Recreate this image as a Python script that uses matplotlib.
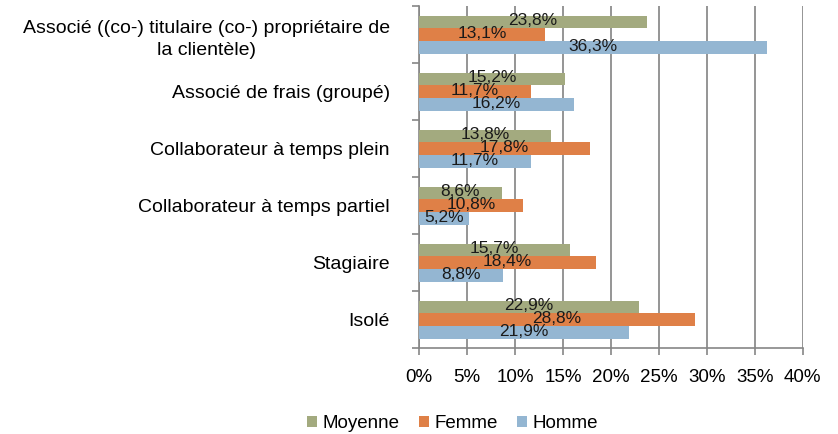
import numpy as np
import matplotlib.pyplot as plt
from matplotlib.ticker import FixedLocator

categories = [
    "Associé ((co-) titulaire (co-) propriétaire de\nla clientèle)",
    "Associé de frais (groupé)",
    "Collaborateur à temps plein",
    "Collaborateur à temps partiel",
    "Stagiaire",
    "Isolé",
]
moyenne = [23.8, 15.2, 13.8, 8.6, 15.7, 22.9]
femme = [13.1, 11.7, 17.8, 10.8, 18.4, 28.8]
homme = [36.3, 16.2, 11.7, 5.2, 8.8, 21.9]
xticks = [0, 5, 10, 15, 20, 25, 30, 35, 40]

plt.rcParams['font.family'] = ['Liberation Sans', 'DejaVu Sans']

fig = plt.figure(figsize=(8.38, 4.34), dpi=100)
ax = fig.add_axes([0.5, 0.198, 0.458, 0.788])

y = np.arange(len(categories))
h = 0.222
series = [
    ("Moyenne", moyenne, "#A3AA7F", -h),
    ("Femme", femme, "#DF8047", 0),
    ("Homme", homme, "#94B6D2", h),
]
for name, vals, col, off in series:
    bars = ax.barh(y + off, vals, height=h, color=col, label=name, zorder=3)
    for b, v in zip(bars, vals):
        ax.text(v / 2, b.get_y() + b.get_height() / 2 - 0.02,
                f"{v:.1f}%".replace(".", ","),
                ha="center", va="center", fontsize=12.5, color="#1a1a1a", zorder=4)

ax.set_xlim(0, 40)
ax.set_ylim(5.5, -0.5)
ax.set_xticks(xticks)
ax.set_xticklabels([f"{t}%" for t in xticks], fontsize=13.5)
ax.set_yticks(y)
ax.set_yticklabels(categories, fontsize=14, ha="right", multialignment="center",
                   linespacing=1.45)
ax.yaxis.set_minor_locator(FixedLocator(np.arange(-0.5, 6, 1)))
ax.tick_params(axis="y", which="major", length=0, pad=21)
ax.tick_params(axis="y", which="minor", length=5, color="#868686", width=1.2)
ax.tick_params(axis="x", length=5, color="#868686", width=1.2, pad=10)

ax.grid(axis="x", color="#8c8c8c", linewidth=1.3, zorder=0)
for s in ["top", "right"]:
    ax.spines[s].set_visible(False)
for s in ["left", "bottom"]:
    ax.spines[s].set_color("#868686")
    ax.spines[s].set_linewidth(1.2)

fig.legend(loc="lower center", bbox_to_anchor=(0.54, -0.035), ncol=3, frameon=False,
           fontsize=13.5, handlelength=0.55, handleheight=0.55, handletextpad=0.3,
           columnspacing=1.0)

fig.savefig("out.png", dpi=100)
